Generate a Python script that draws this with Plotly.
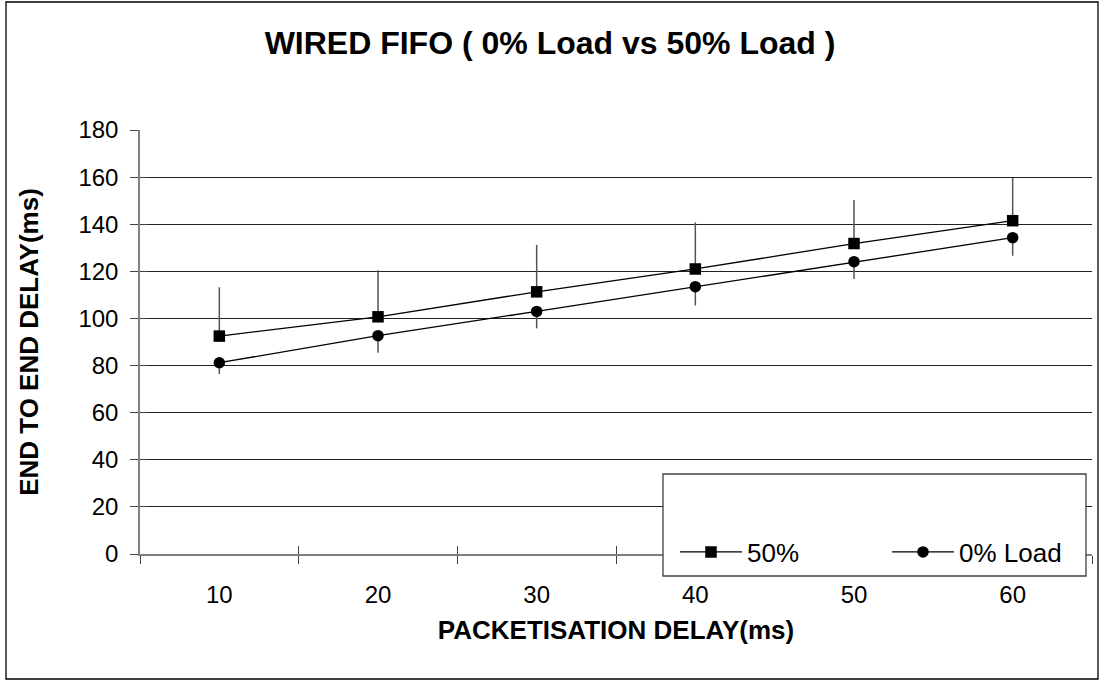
import plotly.graph_objects as go

categories = ["10", "20", "30", "40", "50", "60"]
load50 = [92.5, 100.7, 111.3, 121.0, 131.8, 141.5]
load50_err_plus = [20.7, 19.8, 19.9, 19.8, 18.5, 18.2]
load0 = [81.2, 92.7, 103.0, 113.5, 124.1, 134.3]
load0_err_minus = [4.8, 7.3, 7.2, 8.0, 7.4, 7.7]
y_ticks = [0, 20, 40, 60, 80, 100, 120, 140, 160, 180]
grid_vals = [20, 40, 60, 80, 100, 120, 140, 160]
boundaries = [-0.5, 0.5, 1.5, 2.5, 3.5, 4.5, 5.5]

FONT = "Liberation Sans, Arial, sans-serif"
L, R, T, B = 140, 10, 130, 127
W, H = 1102, 681
pw, ph = W - L - R, H - T - B

def px_x(p):
    return (p - L) / pw

def px_y(p):
    return (H - B - p) / ph

fig = go.Figure()
# helper traces so the overlay axes (inside ticks, gridlines) get drawn
fig.add_trace(go.Scatter(x=[], y=[], xaxis="x2", yaxis="y2", showlegend=False, hoverinfo="skip"))
fig.add_trace(go.Scatter(x=[], y=[], xaxis="x", yaxis="y3", showlegend=False, hoverinfo="skip"))

fig.add_trace(go.Scatter(
    x=categories, y=load50, name="50%", mode="lines+markers",
    line=dict(color="black", width=1.3),
    marker=dict(symbol="square", size=11.5, color="black"),
    error_y=dict(type="data", symmetric=False, array=load50_err_plus,
                 arrayminus=[0] * len(load50), color="#555555", thickness=1.5, width=0),
))
fig.add_trace(go.Scatter(
    x=categories, y=load0, name="0% Load", mode="lines+markers",
    line=dict(color="black", width=1.3),
    marker=dict(symbol="circle", size=11.5, color="black"),
    error_y=dict(type="data", symmetric=False, array=[0] * len(load0),
                 arrayminus=load0_err_minus, color="#555555", thickness=1.5, width=0),
))

fig.update_layout(
    width=W, height=H,
    margin=dict(l=L, r=R, t=T, b=B, autoexpand=False),
    paper_bgcolor="white", plot_bgcolor="white",
    font=dict(family=FONT, color="black", size=24),
    title=dict(text="<b>WIRED FIFO ( 0% Load vs 50% Load )</b>",
               x=550 / W, xanchor="center", xref="container",
               y=1 - 43 / H, yanchor="middle", yref="container",
               font=dict(size=32, family=FONT, color="black")),
    xaxis=dict(type="category", categoryarray=categories, categoryorder="array",
               range=[-0.5, 5.5], tickson="boundaries", ticks="outside", ticklen=8,
               tickcolor="#404040", tickwidth=1.3,
               showline=True, linecolor="#808080", linewidth=1.5, showgrid=False,
               tickfont=dict(size=24), ticklabelstandoff=18,
               title=dict(text="<b>PACKETISATION DELAY(ms)</b>", font=dict(size=26), standoff=14)),
    xaxis2=dict(overlaying="x", anchor="y2", range=[-0.5, 5.5], tickvals=boundaries,
                ticks="inside", ticklen=8, tickcolor="#404040", tickwidth=1.3,
                showticklabels=False, showgrid=False, showline=False, zeroline=False),
    yaxis=dict(range=[0, 180], tickvals=y_ticks, ticks="outside", ticklen=8,
               tickcolor="#404040", tickwidth=1.3,
               showline=True, linecolor="#808080", linewidth=1.5, showgrid=False, zeroline=False,
               tickfont=dict(size=24), ticklabelstandoff=7,
               title=dict(text="<b>END TO END DELAY(ms)</b>", font=dict(size=26), standoff=32)),
    yaxis2=dict(overlaying="y", anchor="x2", range=[0, 180], tickvals=y_ticks,
                ticks="inside", ticklen=8, tickcolor="#404040", tickwidth=1.3,
                showticklabels=False, showgrid=False, showline=False, zeroline=False),
    yaxis3=dict(overlaying="y", anchor="x", range=[0, 180], tickvals=grid_vals,
                ticks="", showticklabels=False, showgrid=True, gridcolor="#222222",
                gridwidth=1, showline=False, zeroline=False),
    showlegend=True,
    legend=dict(orientation="h", x=px_x(675), xanchor="left", y=px_y(552), yanchor="middle",
                bgcolor="rgba(0,0,0,0)", borderwidth=0, font=dict(size=26),
                entrywidth=135, entrywidthmode="pixels", itemwidth=62),
    shapes=[
        dict(type="rect", xref="paper", yref="paper",
             x0=px_x(663), x1=px_x(1086), y0=px_y(576), y1=px_y(474),
             fillcolor="white", line=dict(color="#404040", width=1.3), layer="above"),
        dict(type="rect", xref="paper", yref="paper",
             x0=px_x(6), x1=px_x(1098), y0=px_y(679), y1=px_y(2),
             fillcolor="rgba(0,0,0,0)", line=dict(color="black", width=1.3), layer="below"),
    ],
)

fig.write_html("out.html", config={"displayModeBar": False},
               post_script="document.body.style.margin='0';")
